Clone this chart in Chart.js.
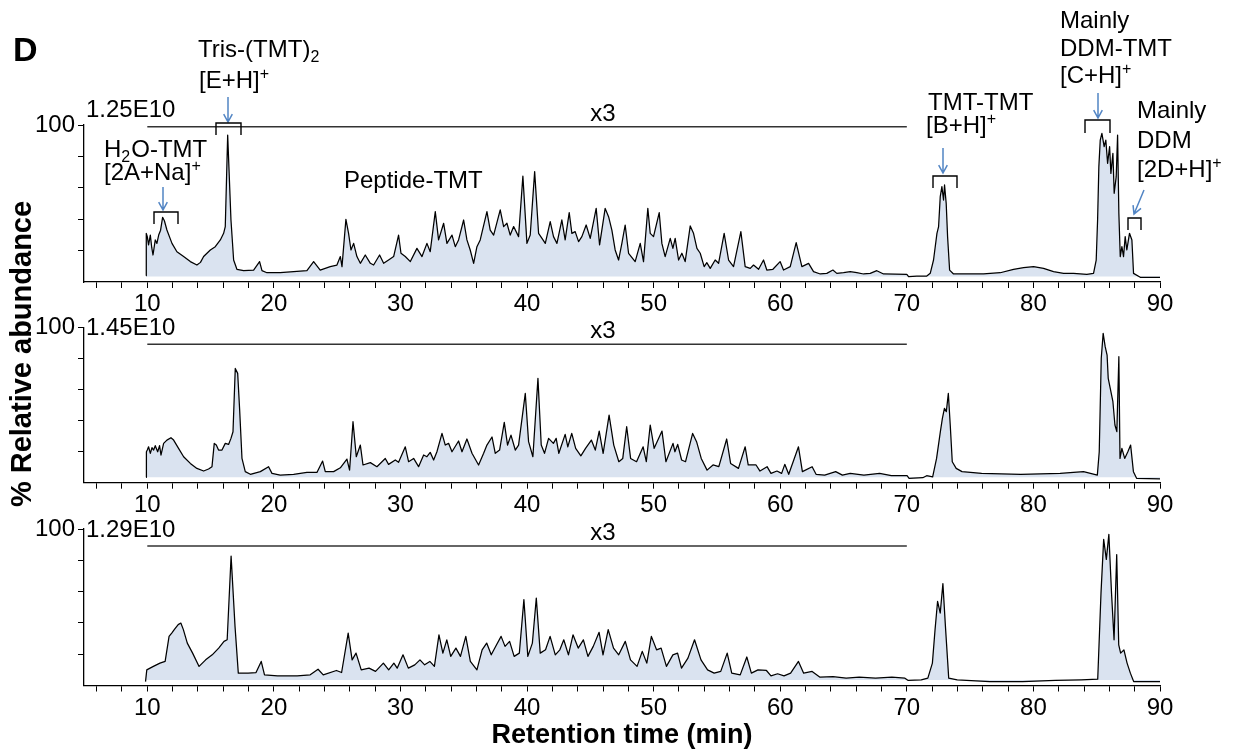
<!DOCTYPE html>
<html>
<head>
<meta charset="utf-8">
<script src="https://cdn.jsdelivr.net/npm/chart.js@4.4.1/dist/chart.umd.min.js"></script>
<style>
  body { margin: 0; background: #fff; }
  #wrap { position: relative; width: 1233px; height: 753px; }
  canvas { position: absolute; left: 0; top: 0; }
</style>
</head>
<body>
<div id="wrap">
  <canvas id="c1" width="1233" height="753"></canvas>
  <canvas id="c2" width="1233" height="753"></canvas>
  <canvas id="c3" width="1233" height="753"></canvas>
</div>
<script>
// retention time (min), % relative abundance
const run1 = [[9.9,4],[9.92,31],[10.0,28.9],[10.1,23.6],[10.24,29.9],[10.35,22],[10.45,17.2],[10.63,26.8],[10.76,24.6],[10.9,29.9],[11.05,33],[11.21,41.2],[11.35,39],[11.55,33.1],[11.95,24.6],[12.34,19.3],[12.87,16.2],[13.4,13.0],[13.92,10.8],[14.2,12.5],[14.45,16.2],[14.98,20.4],[15.37,22.5],[15.77,26.8],[16.03,31.0],[16.16,35.3],[16.35,93.6],[16.61,39.5],[16.82,14.0],[17.08,8.1],[17.61,7.2],[18.4,7.6],[18.87,13.0],[19.06,7.2],[19.45,5.9],[20.5,5.9],[21.56,6.6],[22.61,7.2],[23.14,13.0],[23.66,7.6],[24.45,9.8],[24.98,10.8],[25.25,16.2],[25.38,9.8],[25.69,39.9],[25.9,31.0],[26.09,20.4],[26.3,24.6],[26.56,16.2],[26.83,11.9],[27.22,17.2],[27.62,11.9],[27.88,10.8],[28.35,17.2],[28.67,11.9],[29.06,14.0],[29.46,16.2],[29.85,29.9],[30.04,18.3],[30.38,16.2],[30.78,13.0],[31.3,21.4],[31.7,16.2],[32.09,24.6],[32.35,19.3],[32.75,44.8],[33.01,26.8],[33.41,37.4],[33.67,24.6],[34.07,29.9],[34.33,22.5],[34.59,26.8],[34.99,39.5],[35.25,26.8],[35.51,20.4],[35.78,11.9],[36.04,22.5],[36.3,26.8],[36.83,44.8],[37.09,33.1],[37.36,29.9],[37.88,45.9],[38.15,35.3],[38.41,37.4],[38.67,29.9],[38.94,35.3],[39.33,28.9],[39.67,67.5],[39.99,24.6],[40.25,29.9],[40.6,70.3],[40.91,31.0],[41.18,27.8],[41.44,24.6],[41.83,38.4],[42.09,28.9],[42.36,24.6],[42.75,39.5],[43.01,26.8],[43.33,44.2],[43.54,31.0],[43.8,32.1],[44.07,25.7],[44.33,28.9],[44.67,36.3],[44.99,27.8],[45.46,46.9],[45.73,23.6],[46.17,46.9],[46.44,41.6],[46.7,33.1],[46.96,20.4],[47.23,14.0],[47.49,24.6],[47.75,36.3],[48.02,18.3],[48.54,13.0],[48.94,24.6],[49.2,13.0],[49.54,46.9],[49.73,31.0],[49.99,28.9],[50.44,44.2],[50.65,24.6],[50.91,16.2],[51.31,27.8],[51.52,21.4],[51.7,27.8],[51.97,14.0],[52.23,18.3],[52.49,13.0],[52.89,35.7],[53.15,31.0],[53.42,21.4],[53.68,18.3],[53.99,9.8],[54.2,12.3],[54.47,8.7],[54.86,14.0],[55.13,11.9],[55.57,31.0],[55.92,14.0],[56.31,9.8],[56.89,32.1],[57.23,9.8],[57.63,8.7],[57.89,10.8],[58.29,8.1],[58.68,14.0],[58.94,7.6],[59.42,8.1],[59.99,13.0],[60.26,7.6],[60.79,9.8],[61.26,25.1],[61.71,9.8],[62.24,11.9],[62.63,6.6],[63.16,5.1],[63.68,5.5],[64.16,7.6],[64.47,5.5],[65.0,5.9],[65.53,6.6],[66.05,5.9],[66.58,5.1],[67.11,5.5],[67.63,7.2],[68.16,5.1],[70.0,4.9],[70.14,3.4],[70.79,3.8],[71.58,3.8],[71.85,5.5],[72.11,14.0],[72.38,31.0],[72.51,35.3],[72.64,54.4],[72.77,60.7],[72.9,52.2],[72.98,61.8],[73.11,50.1],[73.22,28.9],[73.38,7.6],[73.69,5.1],[74.75,5.1],[76.06,5.1],[77.38,5.9],[78.43,8.1],[79.22,9.1],[80.01,9.8],[80.8,8.7],[81.59,6.6],[82.38,5.5],[83.17,5.5],[84.22,4.9],[84.75,5.5],[84.96,14.0],[85.07,39.5],[85.17,73.5],[85.28,90.4],[85.41,94.7],[85.59,86.2],[85.72,90.4],[85.86,75.6],[86.02,86.2],[86.12,69.2],[86.28,81.9],[86.38,56.5],[86.54,67.1],[86.65,93.6],[86.75,43.8],[86.86,16.2],[86.99,22.5],[87.12,16.2],[87.25,28.9],[87.38,20.4],[87.59,31.0],[87.78,26.8],[87.91,5.5],[88.44,3.0],[90.0,3.0]];

const run2 = [[9.9,3.5],[9.93,19.9],[10.0,21.0],[10.1,23.1],[10.24,18.9],[10.37,22.5],[10.5,21.0],[10.63,23.8],[10.82,19.9],[10.97,23.8],[11.08,17.8],[11.29,25.3],[11.55,27.4],[11.87,28.9],[12.08,27.4],[12.47,22.1],[12.87,16.7],[13.4,12.4],[13.92,9.2],[14.45,7.5],[14.84,8.8],[15.11,10.3],[15.29,25.3],[15.45,24.2],[15.63,21.0],[15.9,21.0],[16.16,25.3],[16.42,24.6],[16.61,28.5],[16.77,32.8],[16.95,73.5],[17.14,70.3],[17.29,47.8],[17.48,15.6],[17.74,7.1],[18.14,5.4],[18.93,7.1],[19.58,10.3],[19.85,6.0],[20.5,4.9],[21.56,5.4],[22.61,6.6],[23.4,6.6],[23.85,13.9],[24.06,7.1],[24.72,7.1],[25.25,9.6],[25.77,15.2],[25.98,8.1],[26.25,39.2],[26.51,16.7],[26.83,24.2],[27.04,11.4],[27.62,12.9],[28.14,10.3],[28.8,15.6],[29.06,11.8],[29.59,14.6],[29.85,13.1],[30.38,23.1],[30.64,13.5],[31.04,15.6],[31.43,10.3],[31.83,17.8],[32.09,16.7],[32.35,19.5],[32.62,14.6],[32.88,19.9],[33.28,31.7],[33.54,24.2],[33.8,25.3],[34.07,19.9],[34.59,26.8],[34.86,19.9],[35.25,28.1],[35.65,18.9],[36.17,11.4],[36.57,18.9],[36.83,24.2],[37.23,29.4],[37.49,18.9],[37.83,21.0],[38.2,38.8],[38.46,24.2],[38.73,30.6],[39.07,21.0],[39.33,24.2],[39.86,57.4],[40.12,26.4],[40.46,16.7],[40.86,67.1],[41.12,24.2],[41.38,18.9],[41.7,28.5],[42.08,25.3],[42.3,28.5],[42.51,18.9],[43.01,31.1],[43.22,23.1],[43.53,31.7],[43.84,22.1],[44.25,17.3],[44.62,22.1],[45.08,27.4],[45.39,21.0],[45.7,33.2],[46.01,18.9],[46.48,43.5],[46.85,24.2],[47.25,13.5],[47.56,15.6],[47.87,36.0],[48.18,15.6],[48.65,13.5],[49.17,23.1],[49.42,13.5],[49.73,37.1],[50.04,22.1],[50.66,33.2],[50.97,13.5],[51.53,25.3],[51.68,19.9],[51.9,24.6],[52.21,14.6],[52.52,13.5],[53.08,31.7],[53.39,26.4],[53.76,15.6],[54.22,8.1],[54.69,11.4],[55.15,10.3],[55.77,28.1],[56.08,12.4],[56.7,9.2],[57.23,23.1],[57.47,11.4],[58.09,11.4],[58.4,7.5],[58.96,10.3],[59.27,6.0],[59.74,7.5],[60.11,6.0],[60.36,11.8],[60.67,5.4],[61.44,23.1],[61.75,7.1],[62.52,10.3],[62.83,5.4],[63.51,4.9],[64.38,7.1],[64.91,4.9],[65.53,6.0],[66.61,4.9],[67.85,6.0],[68.78,4.5],[70.02,4.5],[70.18,2.8],[71.26,3.2],[71.57,4.5],[72.04,3.8],[72.35,15.6],[72.65,32.8],[72.81,41.4],[72.97,47.8],[73.12,45.7],[73.28,57.4],[73.43,37.1],[73.59,13.5],[73.9,9.2],[74.36,7.1],[75.91,6.0],[79.01,5.4],[82.11,6.0],[83.96,7.1],[85.05,4.9],[85.2,19.9],[85.36,80.0],[85.51,96.0],[85.67,87.5],[85.82,82.1],[85.91,67.1],[86.07,60.7],[86.28,52.1],[86.44,37.1],[86.59,32.8],[86.75,81.0],[86.84,15.6],[86.99,22.1],[87.21,15.6],[87.46,19.9],[87.68,24.2],[87.9,7.1],[88.15,2.8],[90.16,2.4]];

const run3 = [[9.86,2.5],[9.96,10.0],[10.48,12.2],[11.0,14.3],[11.41,15.4],[11.72,31.4],[11.93,33.5],[12.13,35.7],[12.44,38.9],[12.65,39.9],[12.85,35.7],[13.16,27.1],[13.58,20.7],[14.09,12.2],[14.61,16.4],[15.13,19.6],[15.64,23.9],[16.06,28.2],[16.31,29.2],[16.62,82.7],[16.93,37.8],[17.19,7.9],[17.97,7.9],[18.59,8.3],[19.0,15.4],[19.26,6.8],[20.29,6.2],[21.84,6.2],[22.87,6.8],[23.49,10.4],[23.9,6.8],[24.94,9.6],[25.35,8.3],[25.87,33.5],[26.18,16.4],[26.49,20.7],[26.9,10.0],[27.52,11.1],[28.03,9.0],[28.65,14.3],[29.07,10.0],[29.48,14.3],[29.74,11.1],[30.2,19.6],[30.62,11.1],[31.13,13.2],[31.54,16.4],[31.91,13.2],[32.32,15.4],[32.68,12.2],[33.04,32.4],[33.35,20.7],[33.66,29.2],[33.97,18.6],[34.38,23.9],[34.74,18.6],[35.16,31.4],[35.52,15.4],[36.04,10.0],[36.45,22.8],[36.81,27.1],[37.17,19.6],[37.59,26.0],[37.95,31.4],[38.26,25.0],[38.62,28.2],[38.98,18.6],[39.39,20.7],[39.75,54.9],[40.06,18.6],[40.42,27.1],[40.73,55.9],[41.04,20.7],[41.46,22.8],[41.82,31.4],[42.23,19.6],[42.59,22.8],[42.9,29.2],[43.27,19.6],[43.63,32.4],[44.04,23.9],[44.45,29.2],[44.81,18.6],[45.23,25.0],[45.69,34.0],[46.0,19.6],[46.41,35.7],[46.83,23.9],[47.24,19.6],[47.76,28.2],[48.17,16.4],[48.69,12.2],[49.1,21.8],[49.46,14.3],[49.82,31.4],[50.23,22.8],[50.59,23.9],[51.01,12.2],[51.52,19.6],[51.89,20.7],[52.2,11.1],[52.71,17.5],[53.23,29.2],[53.74,16.4],[54.26,10.0],[54.78,7.9],[55.3,9.0],[55.81,20.7],[56.17,7.9],[56.84,6.8],[57.36,18.2],[57.72,7.9],[58.24,10.0],[58.91,9.6],[59.27,6.2],[59.79,7.5],[60.3,6.2],[60.82,7.9],[61.44,15.4],[61.85,7.9],[62.52,9.0],[63.14,5.3],[64.17,5.7],[65.21,4.7],[66.24,5.3],[67.53,4.7],[68.82,5.3],[69.85,4.7],[70.11,3.2],[71.14,3.6],[71.66,4.7],[72.02,14.3],[72.23,35.7],[72.43,53.8],[72.64,46.3],[72.85,65.1],[73.05,37.8],[73.31,4.7],[73.98,3.6],[76.56,2.5],[79.15,2.5],[81.73,3.2],[83.79,3.6],[85.08,4.0],[85.34,59.2],[85.55,93.4],[85.76,80.6],[85.96,96.6],[86.17,59.2],[86.37,29.2],[86.58,83.7],[86.74,26.0],[86.89,20.7],[87.15,22.8],[87.4,14.3],[87.66,7.9],[87.92,2.5],[90.24,2.5]];

const scaleLabels = ['1.25E10', '1.45E10', '1.29E10'];
const xTickMarks = [6,8,10,12,14,16,18,20,22,24,26,28,30,32,34,36,38,40,42,44,46,48,50,52,54,56,58,60,62,64,66,68,70,72,74,76,78,80,82,84,86,88,90];
const xTickLabels = [10,20,30,40,50,60,70,80,90];
const yTickMarks = [20,40,60,80,100];
const yTickLabels = [100];

const FONT = '"Liberation Sans", Arial, sans-serif';
Chart.defaults.font.family = FONT;

function rich(ctx, x, y, parts, size) {
  let cx = x;
  for (const [s, mode] of parts) {
    const fs = mode ? Math.round(size * 0.66) : size;
    ctx.font = fs + 'px ' + FONT;
    const dy = mode === 'sub' ? size * 0.22 : mode === 'sup' ? -size * 0.36 : 0;
    ctx.fillText(s, cx, y + dy);
    cx += ctx.measureText(s).width + (mode ? 1 : 0);
  }
}

function arrow(ctx, x1, y1, x2, y2) {
  ctx.save();
  ctx.strokeStyle = '#5285c4';
  ctx.lineWidth = 1.5;
  ctx.beginPath();
  ctx.moveTo(x1, y1);
  ctx.lineTo(x2, y2);
  const a = Math.atan2(y2 - y1, x2 - x1), h = 9;
  ctx.moveTo(x2 - h * Math.cos(a - 0.5), y2 - h * Math.sin(a - 0.5));
  ctx.lineTo(x2, y2);
  ctx.lineTo(x2 - h * Math.cos(a + 0.5), y2 - h * Math.sin(a + 0.5));
  ctx.stroke();
  ctx.restore();
}

function bracket(ctx, l, r, top, bot) {
  ctx.save();
  ctx.strokeStyle = '#000';
  ctx.lineWidth = 1.4;
  ctx.beginPath();
  ctx.moveTo(l, bot);
  ctx.lineTo(l, top);
  ctx.lineTo(r, top);
  ctx.lineTo(r, bot);
  ctx.stroke();
  ctx.restore();
}

// scale factor label, "x3" bar from 10 to 70 min
function panelHeader(chart, idx, lineOff, textOff, x3Off) {
  const ctx = chart.ctx, top = chart.chartArea.top, xs = chart.scales.x;
  ctx.save();
  ctx.fillStyle = '#000';
  ctx.font = '24px ' + FONT;
  ctx.textBaseline = 'alphabetic';
  ctx.textAlign = 'left';
  ctx.fillText(scaleLabels[idx], 86, top + textOff);
  ctx.strokeStyle = '#333';
  ctx.lineWidth = 1.5;
  ctx.beginPath();
  ctx.moveTo(xs.getPixelForValue(10), top + lineOff);
  ctx.lineTo(xs.getPixelForValue(70), top + lineOff);
  ctx.stroke();
  ctx.textAlign = 'center';
  ctx.fillText('x3', xs.getPixelForValue(46), top + x3Off);
  ctx.restore();
}

const notes1 = {
  id: 'notes1',
  afterDraw(chart) {
    const ctx = chart.ctx;
    panelHeader(chart, 0, 1.7, -8, -4.3);
    ctx.save();
    ctx.fillStyle = '#000';
    ctx.textBaseline = 'alphabetic';
    ctx.textAlign = 'left';
    ctx.font = 'bold 34px ' + FONT;
    ctx.fillText('D', 13, 61);
    rich(ctx, 198, 57, [['Tris-(TMT)'], ['2', 'sub']], 24);
    rich(ctx, 199, 88, [['[E+H]'], ['+', 'sup']], 24);
    rich(ctx, 104, 157, [['H'], ['2', 'sub'], ['O-TMT']], 24);
    rich(ctx, 104, 180, [['[2A+Na]'], ['+', 'sup']], 24);
    rich(ctx, 344, 188, [['Peptide-TMT']], 24);
    rich(ctx, 928, 110, [['TMT-TMT']], 24);
    rich(ctx, 926, 133, [['[B+H]'], ['+', 'sup']], 24);
    rich(ctx, 1060, 28, [['Mainly']], 24);
    rich(ctx, 1060, 56, [['DDM-TMT']], 24);
    rich(ctx, 1060, 83, [['[C+H]'], ['+', 'sup']], 24);
    rich(ctx, 1137, 118, [['Mainly']], 24);
    rich(ctx, 1137, 148, [['DDM']], 24);
    rich(ctx, 1137, 177, [['[2D+H]'], ['+', 'sup']], 24);
    ctx.restore();
    arrow(ctx, 228, 97, 228, 122);
    arrow(ctx, 163, 187, 163, 210);
    arrow(ctx, 943, 148, 943, 173);
    arrow(ctx, 1098, 93, 1098, 118);
    arrow(ctx, 1144, 190, 1134, 214);
    bracket(ctx, 216, 241, 123, 135);
    bracket(ctx, 154, 178, 212, 224);
    bracket(ctx, 933, 957, 176, 188);
    bracket(ctx, 1085, 1110, 120, 133);
    bracket(ctx, 1128, 1141, 218, 230);
  }
};

const notes2 = {
  id: 'notes2',
  afterDraw(chart) {
    const ctx = chart.ctx;
    panelHeader(chart, 1, 17, 8, 11);
    ctx.save();
    ctx.translate(31, 354);
    ctx.rotate(-Math.PI / 2);
    ctx.fillStyle = '#000';
    ctx.font = 'bold 29px ' + FONT;
    ctx.textAlign = 'center';
    ctx.textBaseline = 'alphabetic';
    ctx.fillText('% Relative abundance', 0, 0);
    ctx.restore();
  }
};

const notes3 = {
  id: 'notes3',
  afterDraw(chart) {
    panelHeader(chart, 2, 17, 8, 11);
  }
};

function makeChart(id, run, area, xh, showTitle, notes) {
  return new Chart(document.getElementById(id), {
    type: 'line',
    data: {
      datasets: [{
        data: run.map(p => ({ x: p[0], y: p[1] })),
        borderColor: '#000',
        borderWidth: 1.25,
        borderJoinStyle: 'round',
        pointRadius: 0,
        tension: 0,
        fill: { value: 3.5 },
        backgroundColor: '#dae3f0',
      }],
    },
    options: {
      responsive: false,
      animation: false,
      events: [],
      layout: {
        padding: { left: 0, right: 73, top: area[0], bottom: 753 - area[1] - xh },
      },
      plugins: {
        legend: { display: false },
        tooltip: { enabled: false },
      },
      scales: {
        x: {
          type: 'linear',
          min: 5,
          max: 90,
          afterFit: (s) => { s.height = xh; },
          afterBuildTicks: (s) => { s.ticks = xTickMarks.map(v => ({ value: v })); },
          ticks: {
            autoSkip: false,
            maxRotation: 0,
            color: '#000',
            font: { size: 24 },
            padding: 2,
            callback: (v) => xTickLabels.includes(Math.round(v)) ? String(Math.round(v)) : '',
          },
          grid: { drawOnChartArea: false, tickLength: 6, color: '#000', lineWidth: 1 },
          border: { color: '#000', width: 1.3 },
          title: {
            display: showTitle,
            text: 'Retention time (min)',
            color: '#000',
            font: { size: 27, weight: 'bold', lineHeight: 1 },
            padding: { top: 0, bottom: 0 },
          },
        },
        y: {
          min: 0,
          max: 100,
          afterFit: (s) => { s.width = 84; },
          afterBuildTicks: (s) => { s.ticks = yTickMarks.map(v => ({ value: v })); },
          ticks: {
            color: '#000',
            font: { size: 24 },
            padding: 3,
            callback: (v) => yTickLabels.includes(v) ? String(v) : '',
          },
          grid: { drawOnChartArea: false, tickLength: 6, color: '#000', lineWidth: 1 },
          border: { color: '#000', width: 1.3 },
        },
      },
    },
    plugins: [notes],
  });
}

makeChart('c1', run1, [125, 282], 40, false, notes1);
makeChart('c2', run2, [327.2, 482.7], 40, false, notes2);
makeChart('c3', run3, [529, 685.5], 64, true, notes3);
</script>
</body>
</html>
